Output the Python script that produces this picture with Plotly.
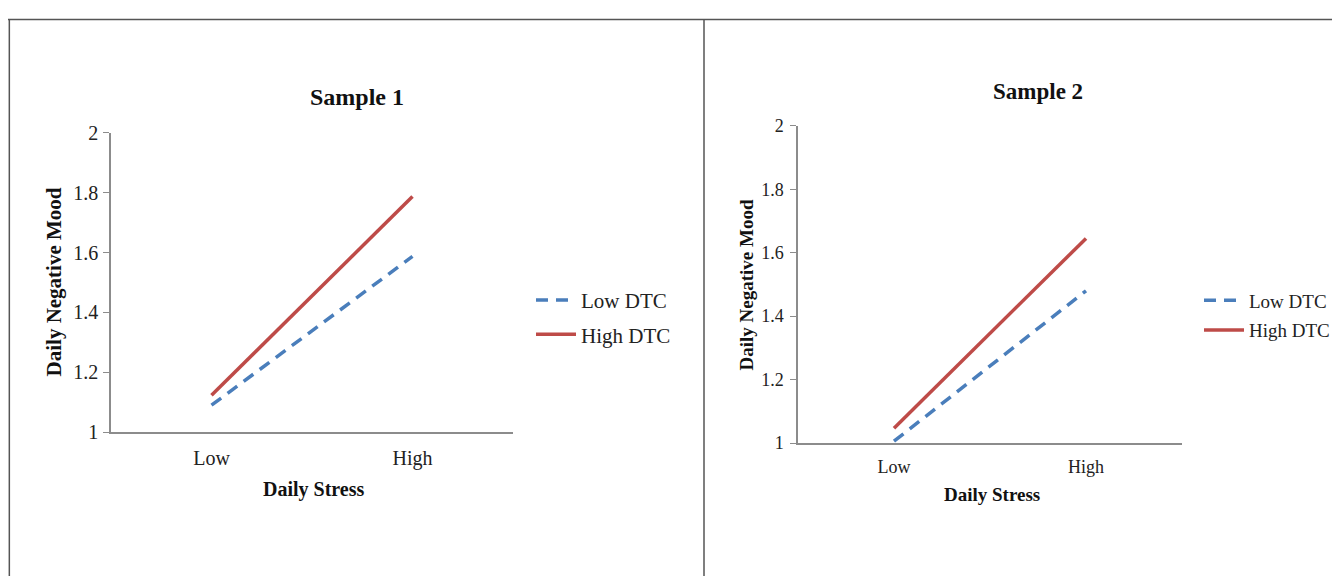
import plotly.graph_objects as go

categories = ["Low", "High"]
s1_low_dtc = [1.09, 1.587]
s1_high_dtc = [1.123, 1.787]
s2_low_dtc = [1.006, 1.48]
s2_high_dtc = [1.047, 1.645]
y_ticks = [1, 1.2, 1.4, 1.6, 1.8, 2]
y_tick_labels = ["1", "1.2", "1.4", "1.6", "1.8", "2"]

OFFX, OFFY, SY = 7, 18, 0.964
FW, FH = 1333, 579
def px(x): return (x - OFFX) / FW
def py(y): return min(1.0, 1 - ((y - OFFY) / SY) / FH)

BLUE = "#4a7ebb"
RED = "#be4b48"
AX = "#8c8c8c"
FONT = "Liberation Serif"
DASH = "12px,8px"

fig = go.Figure()
fig.add_trace(go.Scatter(x=[0, 1], y=s1_low_dtc, mode="lines", name="Low DTC", legendgroup="a",
                         line=dict(color=BLUE, width=3.5, dash=DASH), xaxis="x", yaxis="y", legend="legend"))
fig.add_trace(go.Scatter(x=[0, 1], y=s1_high_dtc, mode="lines", name="High DTC", legendgroup="b",
                         line=dict(color=RED, width=3.5), xaxis="x", yaxis="y", legend="legend"))
fig.add_trace(go.Scatter(x=[0, 1], y=s2_low_dtc, mode="lines", name="Low DTC", legendgroup="c",
                         line=dict(color=BLUE, width=3.5, dash=DASH), xaxis="x2", yaxis="y2", legend="legend2"))
fig.add_trace(go.Scatter(x=[0, 1], y=s2_high_dtc, mode="lines", name="High DTC", legendgroup="d",
                         line=dict(color=RED, width=3.5), xaxis="x2", yaxis="y2", legend="legend2"))

def xax(size, standoff):
    return dict(range=[-0.5, 1.5], tickvals=[0, 1], ticktext=categories, showline=True, linecolor=AX,
                linewidth=1.5, ticks="", showgrid=False, zeroline=False, ticklabelstandoff=standoff,
                tickfont=dict(family=FONT, size=size, color="#222"))

def yax(size, standoff):
    return dict(range=[1, 2], tickvals=y_ticks, ticktext=y_tick_labels, showline=True, linecolor=AX, linewidth=1.5,
                ticks="outside", ticklen=6, tickcolor=AX, showgrid=False, zeroline=False, ticklabelstandoff=standoff,
                tickfont=dict(family=FONT, size=size, color="#222"))

fig.update_layout(
    width=FW, height=FH, margin=dict(l=0, r=0, t=0, b=0),
    paper_bgcolor="white", plot_bgcolor="white",
    xaxis=dict(domain=[px(110), px(512)], anchor="y", **xax(20, 7)),
    yaxis=dict(domain=[py(432), py(132)], anchor="x", **yax(20, 1)),
    xaxis2=dict(domain=[px(797), px(1181)], anchor="y2", **xax(18, 7)),
    yaxis2=dict(domain=[py(443), py(125)], anchor="x2", **yax(18, 3)),
    legend=dict(x=px(530), y=py(317), xanchor="left", yanchor="middle", bgcolor="rgba(0,0,0,0)",
                font=dict(family=FONT, size=21, color="#222"), tracegroupgap=4, itemwidth=40),
    legend2=dict(x=px(1198), y=py(315), xanchor="left", yanchor="middle", bgcolor="rgba(0,0,0,0)",
                 font=dict(family=FONT, size=19, color="#222"), tracegroupgap=2, itemwidth=40),
    showlegend=True,
)

annotations = [
    dict(text="<b>Sample 1</b>", x=px(356), y=py(96), font=dict(size=24)),
    dict(text="<b>Sample 2</b>", x=px(1037), y=py(91), font=dict(size=23)),
    dict(text="<b>Daily Stress</b>", x=px(313), y=py(489), font=dict(size=20)),
    dict(text="<b>Daily Stress</b>", x=px(991), y=py(494), font=dict(size=19)),
    dict(text="<b>Daily Negative Mood</b>", x=px(53), y=py(282), textangle=-90, font=dict(size=21)),
    dict(text="<b>Daily Negative Mood</b>", x=px(745), y=py(285), textangle=-90, font=dict(size=19)),
]
for a in annotations:
    a.update(xref="paper", yref="paper", showarrow=False, xanchor="center", yanchor="middle")
    a["font"].update(family=FONT, color="#111")
fig.update_layout(annotations=annotations)

line = dict(color="#555555", width=1.5)
fig.update_layout(shapes=[
    dict(type="line", xref="paper", yref="paper", x0=0, x1=1, y0=0.999, y1=0.999, line=line),
    dict(type="line", xref="paper", yref="paper", x0=0.001, x1=0.001, y0=0.999, y1=0, line=line),
    dict(type="line", xref="paper", yref="paper", x0=px(703), x1=px(703), y0=0.999, y1=0, line=line),
])

fig.write_html("out.html")
